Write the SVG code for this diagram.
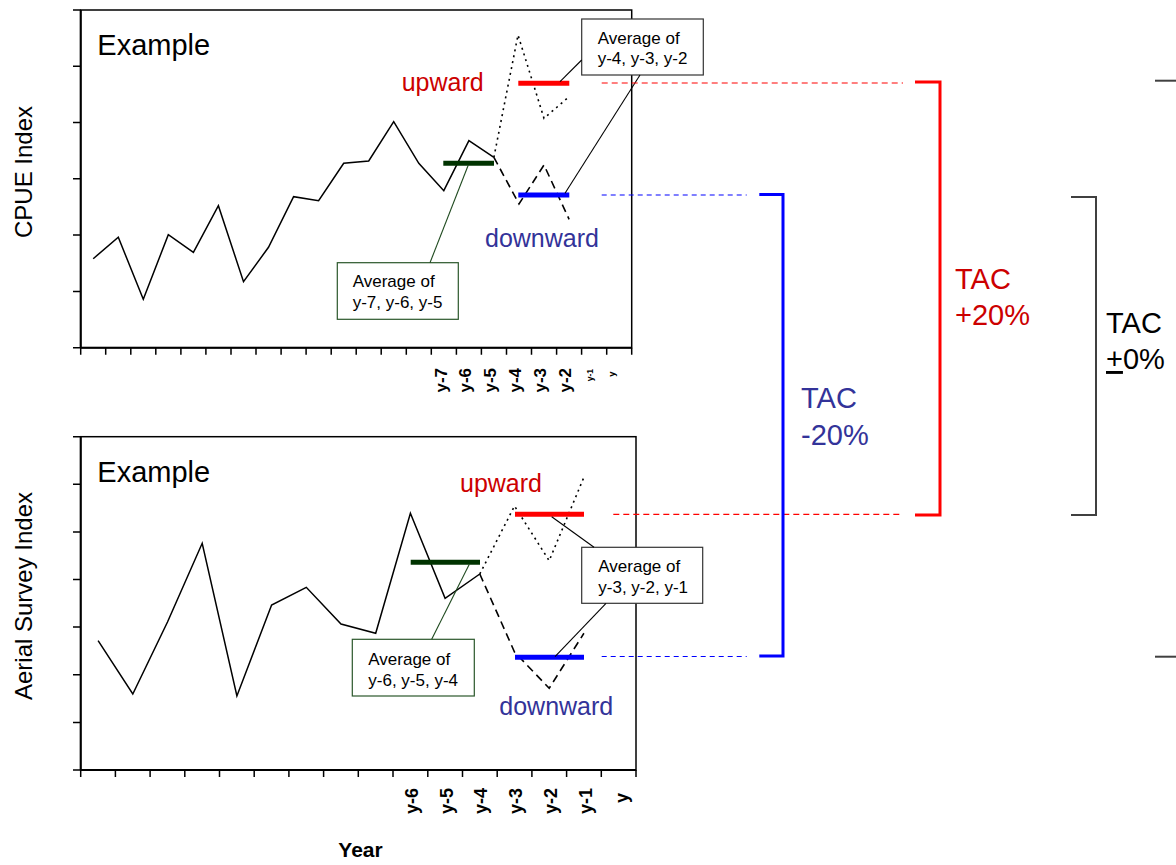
<svg xmlns="http://www.w3.org/2000/svg" width="1176" height="865" viewBox="0 0 1176 865">
<style>
text{font-family:"Liberation Sans",Arial,sans-serif}
.frame{fill:none;stroke:#000;stroke-width:1.5}
.axis{stroke:#000;stroke-width:2;fill:none}
.tick{stroke:#000;stroke-width:1.5}
.data{fill:none;stroke:#000;stroke-width:1.5;stroke-linejoin:miter}
.dot{fill:none;stroke:#000;stroke-width:1.6;stroke-dasharray:2,4}
.dash{fill:none;stroke:#000;stroke-width:1.6;stroke-dasharray:8,5}
.bar{stroke-width:5}
.ptr{stroke:#000;stroke-width:1.1}
.gptr{stroke:#1f4a1f;stroke-width:1.1}
.box{fill:#fff;stroke:#333;stroke-width:1.2}
.gbox{fill:#fff;stroke:#2b572b;stroke-width:1.2}
.cap{font-size:17px;fill:#000}
.ex{font-size:29px;fill:#000}
.up{font-size:25px;fill:#cc0000}
.down{font-size:25px;fill:#333399}
.tac{font-size:29px}
.xl{font-size:17px;font-weight:bold;fill:#000}
.xl2{font-size:18px;font-weight:bold;fill:#000}
.yl{font-size:24px;fill:#000}
.guideR{stroke:#ff0000;stroke-width:1.2;stroke-dasharray:6,4}
.guideB{stroke:#0000ff;stroke-width:1.2;stroke-dasharray:5,4}
</style>

<g id="chart-top">
  <rect class="frame" x="80.7" y="10" width="551" height="337.7"/>
  <line class="axis" x1="80.7" y1="10" x2="80.7" y2="347.7"/>
  <line class="axis" x1="80.7" y1="347.7" x2="631.7" y2="347.7"/>
  <path class="tick" d="M73,10H80.7M73,66.3H80.7M73,122.6H80.7M73,178.8H80.7M73,235.1H80.7M73,291.4H80.7M73,347.7H80.7"/>
  <path class="tick" d="M80.7,347.7v7M105.7,347.7v7M130.8,347.7v7M155.8,347.7v7M180.9,347.7v7M205.9,347.7v7M231,347.7v7M256,347.7v7M281.1,347.7v7M306.1,347.7v7M331.2,347.7v7M356.2,347.7v7M381.2,347.7v7M406.3,347.7v7M431.3,347.7v7M456.4,347.7v7M481.4,347.7v7M506.5,347.7v7M531.5,347.7v7M556.6,347.7v7M581.6,347.7v7M606.7,347.7v7M631.7,347.7v7"/>
  <polyline class="data" points="93.2,258.7 118.3,237.3 143.3,299.3 168.3,234.7 193.4,252.3 218.4,205.7 243.5,281.7 268.5,247.3 293.6,196.7 318.6,200.7 343.7,163.3 368.7,161 393.7,121.7 418.8,163.3 443.8,190.7 468.9,140.7 493.9,157.3"/>
  <polyline class="dot" points="493.9,157.3 518,35 544,118.3 569.1,96.7"/>
  <polyline class="dash" points="493.9,157.3 519,204 544,165 569.1,219.3"/>
  <line class="bar" x1="443.3" y1="163.3" x2="494" y2="163.3" stroke="#003300"/>
  <line class="bar" x1="518.3" y1="83.3" x2="569.3" y2="83.3" stroke="#ff0000"/>
  <line class="bar" x1="518.3" y1="195" x2="569.3" y2="195" stroke="#0000ff"/>
  <text class="ex" x="97.3" y="55">Example</text>
  <text class="up" x="401.7" y="91">upward</text>
  <text class="down" x="485" y="247.3">downward</text>
  <text class="yl" transform="translate(32,172) rotate(-90)" text-anchor="middle">CPUE Index</text>
  <g text-anchor="end">
    <text class="xl" transform="translate(447,368) rotate(-90)">y-7</text>
    <text class="xl" transform="translate(471,368) rotate(-90)">y-6</text>
    <text class="xl" transform="translate(496,368) rotate(-90)">y-5</text>
    <text class="xl" transform="translate(521,368) rotate(-90)">y-4</text>
    <text class="xl" transform="translate(546,368) rotate(-90)">y-3</text>
    <text class="xl" transform="translate(571,368) rotate(-90)">y-2</text>
    <text transform="translate(592.5,369) rotate(-90)" font-size="8.5" font-weight="bold">y-1</text>
    <text transform="translate(615,371.5) rotate(-90)" font-size="9.5" font-weight="bold">y</text>
  </g>
</g>

<g id="callout-top-green">
  <rect class="gbox" x="337.3" y="262.7" width="121" height="56.6"/>
  <text class="cap" x="352.7" y="286.7">Average of</text>
  <text class="cap" x="352.7" y="308.3">y-7, y-6, y-5</text>
</g>

<g id="callout-top-right">
  <rect class="box" x="581.7" y="19" width="121.6" height="56"/>
  <text class="cap" x="597.7" y="43.5">Average of</text>
  <text class="cap" x="597.7" y="64">y-4, y-3, y-2</text>
</g>

<g id="chart-bottom">
  <rect class="frame" x="80.7" y="436.7" width="555.3" height="333.3"/>
  <line class="axis" x1="80.7" y1="436.7" x2="80.7" y2="770"/>
  <line class="axis" x1="80.7" y1="770" x2="636" y2="770"/>
  <path class="tick" d="M73,436.7H80.7M73,484.3H80.7M73,531.9H80.7M73,579.5H80.7M73,627.1H80.7M73,674.8H80.7M73,722.4H80.7M73,770H80.7"/>
  <path class="tick" d="M80.7,770v7M115.4,770v7M150.1,770v7M184.8,770v7M219.5,770v7M254.2,770v7M288.9,770v7M323.6,770v7M358.3,770v7M393,770v7M427.8,770v7M462.5,770v7M497.2,770v7M531.9,770v7M566.6,770v7M601.3,770v7M636,770v7"/>
  <polyline class="data" points="98.1,640.7 132.8,694 167.5,622 202.2,543.3 236.9,696 271.6,605 306.3,587.3 341,624 375.7,633.3 410.4,513.3 445.1,598.3 479.8,574"/>
  <polyline class="dot" points="479.8,574 514.5,506 549.2,560.7 583.9,477.3"/>
  <polyline class="dash" points="479.8,574 514.5,652 549.2,688.3 583.9,633.3"/>
  <line class="bar" x1="410.7" y1="562.3" x2="480" y2="562.3" stroke="#003300"/>
  <line class="bar" x1="515" y1="514.3" x2="584" y2="514.3" stroke="#ff0000"/>
  <line class="bar" x1="515" y1="657.3" x2="584" y2="657.3" stroke="#0000ff"/>
  <text class="ex" x="97.3" y="481.7">Example</text>
  <text class="up" x="460" y="491.7">upward</text>
  <text class="down" x="499.3" y="715">downward</text>
  <text class="yl" transform="translate(32,596) rotate(-90)" text-anchor="middle">Aerial Survey Index</text>
  <g text-anchor="end">
    <text class="xl2" transform="translate(418,788) rotate(-90)">y-6</text>
    <text class="xl2" transform="translate(453,788) rotate(-90)">y-5</text>
    <text class="xl2" transform="translate(486.5,788) rotate(-90)">y-4</text>
    <text class="xl2" transform="translate(521.5,788) rotate(-90)">y-3</text>
    <text class="xl2" transform="translate(556.5,788) rotate(-90)">y-2</text>
    <text class="xl2" transform="translate(591.5,788) rotate(-90)">y-1</text>
    <text class="xl2" transform="translate(628,793) rotate(-90)">y</text>
  </g>
  <text x="338.3" y="857" font-size="21" font-weight="bold">Year</text>
</g>

<g id="callout-bottom-green">
  <rect class="gbox" x="352.3" y="639.3" width="122" height="56.7"/>
  <text class="cap" x="368.3" y="665">Average of</text>
  <text class="cap" x="368.3" y="685.5">y-6, y-5, y-4</text>
</g>

<g id="callout-bottom-right">
  <rect class="box" x="581.7" y="547.3" width="121" height="56"/>
  <text class="cap" x="598.3" y="571.7">Average of</text>
  <text class="cap" x="598.3" y="592.7">y-3, y-2, y-1</text>
</g>

<g id="label-tac-plus20">
  <text class="tac" x="955" y="289" fill="#cc0000">TAC</text>
  <text class="tac" x="955" y="325" fill="#cc0000">+20%</text>
</g>
<g id="label-tac-minus20">
  <text class="tac" x="801" y="408.3" fill="#333399">TAC</text>
  <text class="tac" x="801" y="445" fill="#333399">-20%</text>
</g>
<g id="label-tac-0">
  <text class="tac" x="1106" y="332.5" fill="#000">TAC</text>
  <text class="tac" x="1106" y="369" fill="#000"><tspan text-decoration="underline">+</tspan>0%</text>
</g>

<g id="connectors">
  <line class="ptr" x1="560" y1="81.7" x2="581.7" y2="60"/>
  <line class="ptr" x1="565" y1="193.3" x2="640" y2="75"/>
  <line class="gptr" x1="468.3" y1="165" x2="430" y2="262.7"/>
  <line class="ptr" x1="551.7" y1="516.7" x2="594" y2="547.3"/>
  <line class="ptr" x1="555" y1="656.7" x2="606" y2="603.3"/>
  <line class="gptr" x1="469.3" y1="564.3" x2="431.7" y2="639.3"/>
  <line class="guideR" x1="601.7" y1="83" x2="903" y2="83"/>
  <line class="guideB" x1="601.7" y1="195" x2="746.7" y2="195"/>
  <line class="guideR" x1="613.3" y1="514.3" x2="900" y2="514.3"/>
  <line class="guideB" x1="601.7" y1="656.5" x2="746.7" y2="656.5"/>
  <polyline points="915,82 940,82 940,515 915,515" fill="none" stroke="#ff0000" stroke-width="3"/>
  <polyline points="759.3,194.5 783,194.5 783,656 759.3,656" fill="none" stroke="#0000ff" stroke-width="3"/>
  <polyline points="1071,197 1096,197 1096,515 1071,515" fill="none" stroke="#404040" stroke-width="2"/>
  <line x1="1155" y1="80.7" x2="1176" y2="80.7" stroke="#404040" stroke-width="2"/>
  <line x1="1155" y1="656.7" x2="1176" y2="656.7" stroke="#404040" stroke-width="2"/>
</g>
</svg>
